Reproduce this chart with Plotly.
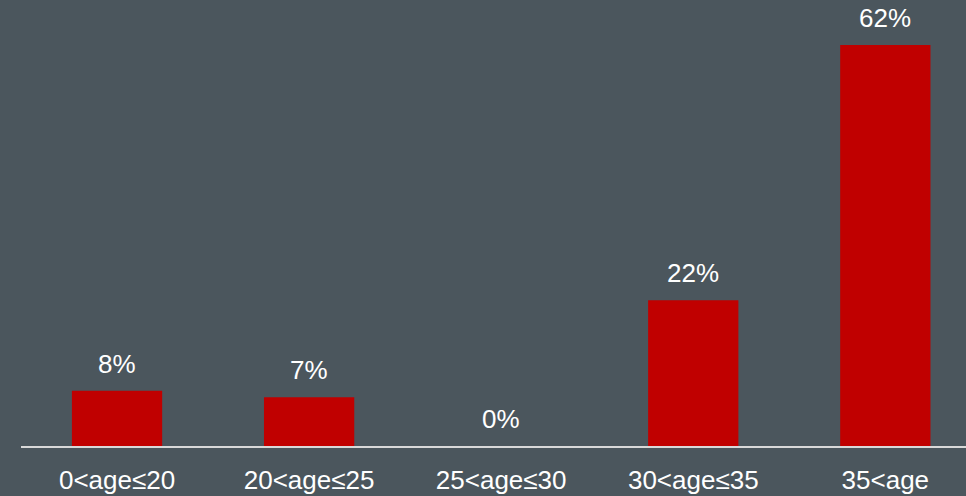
import plotly.graph_objects as go

categories = ["0<age≤20", "20<age≤25", "25<age≤30", "30<age≤35", "35<age"]
values = [8.5, 7.5, 0, 22.4, 61.6]
labels = ["8%", "7%", "0%", "22%", "62%"]

BG = "#4b565d"
RED = "#c00000"
TXT = "#ffffff"
FONT = "Liberation Sans, Arial, sans-serif"

fig = go.Figure()
fig.add_trace(go.Bar(
    x=categories, y=values, marker=dict(color=RED, line=dict(width=0)),
    width=0.47, hoverinfo="skip",
))

for c, v, t in zip(categories, values, labels):
    fig.add_annotation(x=c, y=v, text=t, showarrow=False, yanchor="middle",
                       yshift=27, font=dict(size=26, color=TXT, family=FONT))

fig.update_layout(
    width=966, height=496,
    margin=dict(l=21, r=0, t=0, b=50),
    paper_bgcolor=BG, plot_bgcolor=BG,
    showlegend=False,
    font=dict(family=FONT, color=TXT, size=26),
    xaxis=dict(range=[-0.5, 4.42], showline=True, linecolor="#d9d9d9", linewidth=2,
               showgrid=False, zeroline=False, ticks="", tickfont=dict(size=26, color=TXT),
               ticklabelstandoff=10),
    yaxis=dict(range=[0, 68.51], visible=False, showgrid=False, zeroline=False),
)

fig.write_html("out.html")
